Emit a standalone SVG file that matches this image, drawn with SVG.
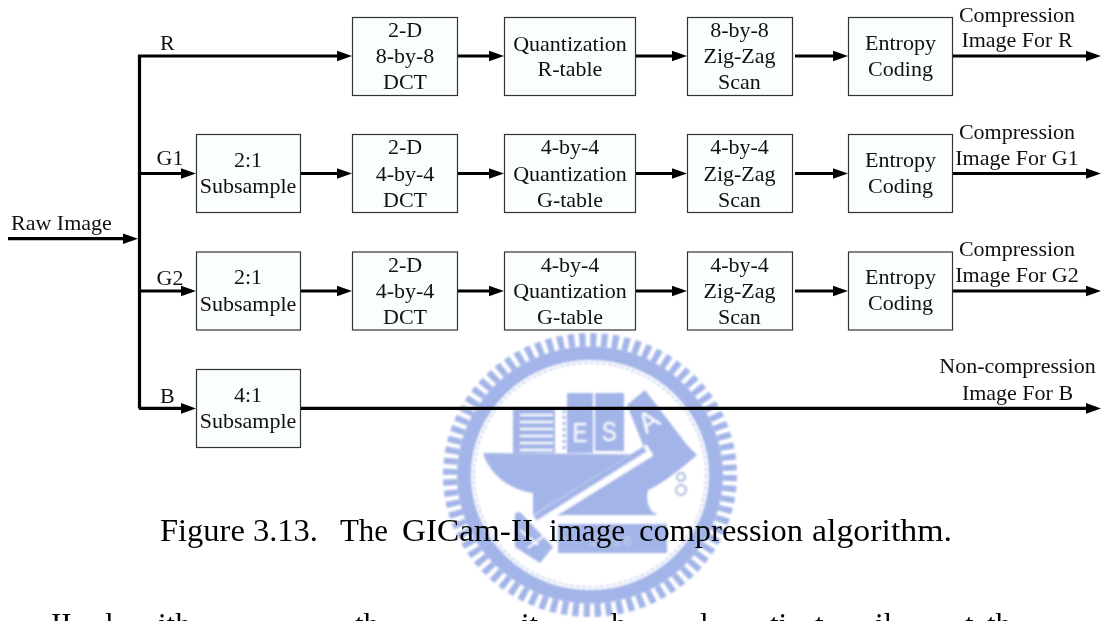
<svg xmlns="http://www.w3.org/2000/svg" width="1101" height="621" viewBox="0 0 1101 621">
<style>
text{font-family:"Liberation Serif","Times New Roman",serif;font-size:22px;fill:#111}
.c{text-anchor:middle}
.box{fill:#fbfefe;stroke:#333;stroke-width:1.2}
.w{stroke:#000;stroke-width:3.2;fill:none}
.a{marker-end:url(#arr)}
.s{fill:#a2b4e8}
.cm{font-size:31px;fill:#000}
.lg{font-family:"Liberation Sans",sans-serif;fill:#fff;font-size:28px;text-anchor:middle}
</style>
<defs>
<marker id="arr" markerUnits="userSpaceOnUse" markerWidth="16" markerHeight="12" refX="10" refY="6" orient="auto"><path d="M0,0.700L15,6L0,11.300Z" fill="#000"/></marker>
<filter id="soft" x="-5%" y="-5%" width="110%" height="110%"><feGaussianBlur stdDeviation="0.9"/></filter>
</defs>
<rect width="1101" height="621" fill="#fff"/>
<g id="seal" filter="url(#soft)">
<g transform="translate(590,475) scale(1,.966)" fill="none">
<circle r="140" stroke="#a2b4e8" stroke-width="14" stroke-dasharray="6.300 4.695"/>
<circle r="126" stroke="#a2b4e8" stroke-width="14"/>
<circle r="116" stroke="#c3cdec" stroke-width="1.600" stroke-dasharray="4 2"/>
</g>
<path class="s" d="M483,453L697,455C680,470 660,485 648,490C645,503 650,512 658,515L567,515L533,517L533,493C510,490 490,475 483,453Z"/>
<path class="s" d="M627,405L645,390L687,445L697,455L647,455Z"/>
<rect class="s" x="513" y="408" width="42" height="45"/>
<path d="M520,415H553M520,422H553M520,429H553M520,436H553M520,443H553M520,450H553" stroke="#fff" stroke-width="1.800"/>
<path d="M564,410V452" stroke="#a2b4e8" stroke-width="3" stroke-dasharray="3 3"/>
<rect class="s" x="567" y="393" width="26" height="60"/>
<rect class="s" x="595" y="393" width="29" height="58"/>
<text class="lg" x="580" y="442" transform="translate(116 0) scale(.8 1)">E</text>
<text class="lg" x="609" y="441" transform="translate(122 0) scale(.8 1)">S</text>
<text class="lg" x="654" y="429" transform="rotate(-35 654 429)">A</text>
<path d="M650,450L531,524" stroke="#fff" stroke-width="13"/>
<path d="M645,449L535,518" stroke="#a2b4e8" stroke-width="6"/>
<path class="s" d="M515,513L520,512L553,547L540,563L515,547Z"/>
<path d="M520,530L538,545M528,548L545,535" stroke="#fff" stroke-width="2"/>
<rect class="s" x="558" y="524" width="109" height="29"/>
<text class="lg" x="612" y="546" style="fill:#c5d0f0;font-size:15px;letter-spacing:3px">1896</text>
<circle cx="681" cy="477" r="4" fill="none" stroke="#aab7d8" stroke-width="2"/>
<circle cx="681" cy="490" r="5" fill="none" stroke="#aab7d8" stroke-width="2"/>
</g>
<g id="connectors">
<path class="w a" d="M8,238.700H133"/>
<path class="w a" d="M139.500,408.400V56H347"/>
<path class="w a" d="M139,173.500H191"/><path class="w a" d="M139,291H191"/><path class="w a" d="M139,408.400H191"/>
<path class="w a" d="M456,56H499"/><path class="w a" d="M634,56H682"/><path class="w a" d="M795,56H843"/><path class="w a" d="M952,56H1096"/>
<path class="w a" d="M300,173.500H347"/><path class="w a" d="M456,173.500H499"/><path class="w a" d="M634,173.500H682"/><path class="w a" d="M795,173.500H843"/><path class="w a" d="M952,173.500H1096"/>
<path class="w a" d="M300,291H347"/><path class="w a" d="M456,291H499"/><path class="w a" d="M634,291H682"/><path class="w a" d="M795,291H843"/><path class="w a" d="M952,291H1096"/>
<path class="w a" d="M300,408.400H1096"/>
</g>
<g id="n-raw"><text x="11" y="230">Raw Image</text></g>
<g id="l-r"><text x="160" y="50">R</text></g>
<g id="l-g1"><text x="156.500" y="165">G1</text></g>
<g id="l-g2"><text x="156.500" y="285">G2</text></g>
<g id="l-b"><text x="160" y="403">B</text></g>
<g id="n-dct-r"><rect class="box" x="352.500" y="17.500" width="105" height="78"/><text class="c" x="405" y="36.500">2-D</text><text class="c" x="405" y="63">8-by-8</text><text class="c" x="405" y="89">DCT</text></g>
<g id="n-q-r"><rect class="box" x="504.500" y="17.500" width="131" height="78"/><text class="c" x="570" y="50.500">Quantization</text><text class="c" x="570" y="76">R-table</text></g>
<g id="n-z-r"><rect class="box" x="687.500" y="17.500" width="105" height="78"/><text class="c" x="739.500" y="36.500">8-by-8</text><text class="c" x="739.500" y="63">Zig-Zag</text><text class="c" x="739.500" y="89">Scan</text></g>
<g id="n-e-r"><rect class="box" x="848.500" y="17.500" width="104" height="78"/><text class="c" x="900.500" y="50">Entropy</text><text class="c" x="900.500" y="76">Coding</text></g>
<g id="out-r"><text class="c" x="1017" y="21.500">Compression</text><text class="c" x="1017" y="47">Image For R</text></g>
<g id="n-s-g1"><rect class="box" x="196.500" y="134.500" width="104" height="78"/><text class="c" x="248" y="167">2:1</text><text class="c" x="248" y="193">Subsample</text></g>
<g id="n-dct-g1"><rect class="box" x="352.500" y="134.500" width="105" height="78"/><text class="c" x="405" y="154">2-D</text><text class="c" x="405" y="180.500">4-by-4</text><text class="c" x="405" y="206.500">DCT</text></g>
<g id="n-q-g1"><rect class="box" x="504.500" y="134.500" width="131" height="78"/><text class="c" x="570" y="154">4-by-4</text><text class="c" x="570" y="180.500">Quantization</text><text class="c" x="570" y="206.500">G-table</text></g>
<g id="n-z-g1"><rect class="box" x="687.500" y="134.500" width="105" height="78"/><text class="c" x="739.500" y="154">4-by-4</text><text class="c" x="739.500" y="180.500">Zig-Zag</text><text class="c" x="739.500" y="206.500">Scan</text></g>
<g id="n-e-g1"><rect class="box" x="848.500" y="134.500" width="104" height="78"/><text class="c" x="900.500" y="167">Entropy</text><text class="c" x="900.500" y="193">Coding</text></g>
<g id="out-g1"><text class="c" x="1017" y="138.500">Compression</text><text class="c" x="1017" y="164.500">Image For G1</text></g>
<g id="n-s-g2"><rect class="box" x="196.500" y="252" width="104" height="78"/><text class="c" x="248" y="284">2:1</text><text class="c" x="248" y="310.500">Subsample</text></g>
<g id="n-dct-g2"><rect class="box" x="352.500" y="252" width="105" height="78"/><text class="c" x="405" y="271.500">2-D</text><text class="c" x="405" y="298">4-by-4</text><text class="c" x="405" y="324">DCT</text></g>
<g id="n-q-g2"><rect class="box" x="504.500" y="252" width="131" height="78"/><text class="c" x="570" y="271.500">4-by-4</text><text class="c" x="570" y="298">Quantization</text><text class="c" x="570" y="324">G-table</text></g>
<g id="n-z-g2"><rect class="box" x="687.500" y="252" width="105" height="78"/><text class="c" x="739.500" y="271.500">4-by-4</text><text class="c" x="739.500" y="298">Zig-Zag</text><text class="c" x="739.500" y="324">Scan</text></g>
<g id="n-e-g2"><rect class="box" x="848.500" y="252" width="104" height="78"/><text class="c" x="900.500" y="284">Entropy</text><text class="c" x="900.500" y="310">Coding</text></g>
<g id="out-g2"><text class="c" x="1017" y="256">Compression</text><text class="c" x="1017" y="282">Image For G2</text></g>
<g id="n-s-b"><rect class="box" x="196.500" y="369.500" width="104" height="78"/><text class="c" x="248" y="401.500">4:1</text><text class="c" x="248" y="427.500">Subsample</text></g>
<g id="out-b"><text class="c" x="1017.500" y="373">Non-compression</text><text class="c" x="1017.500" y="400">Image For B</text></g>
<g id="caption"><text class="cm" y="541" x="160" textLength="158" lengthAdjust="spacingAndGlyphs">Figure 3.13.</text><text class="cm" y="541" x="340" textLength="48" lengthAdjust="spacingAndGlyphs">The</text><text class="cm" y="541" x="402" textLength="131" lengthAdjust="spacingAndGlyphs">GICam-II</text><text class="cm" y="541" x="549" textLength="76" lengthAdjust="spacingAndGlyphs">image</text><text class="cm" y="541" x="639" textLength="164" lengthAdjust="spacingAndGlyphs">compression</text><text class="cm" y="541" x="812" textLength="140" lengthAdjust="spacingAndGlyphs">algorithm.</text></g>
<g id="cut-line"><text class="cm" y="635" x="51">II</text><text class="cm" y="635" x="105">l</text><text class="cm" y="635" x="158">ith</text><text class="cm" y="635" x="355">th</text><text class="cm" y="635" x="521">it</text><text class="cm" y="635" x="611">h</text><text class="cm" y="635" x="700">l</text><text class="cm" y="635" x="770">ti</text><text class="cm" y="635" x="815">t</text><text class="cm" y="635" x="875">il</text><text class="cm" y="635" x="965">t</text><text class="cm" y="635" x="987">th</text></g>
</svg>
